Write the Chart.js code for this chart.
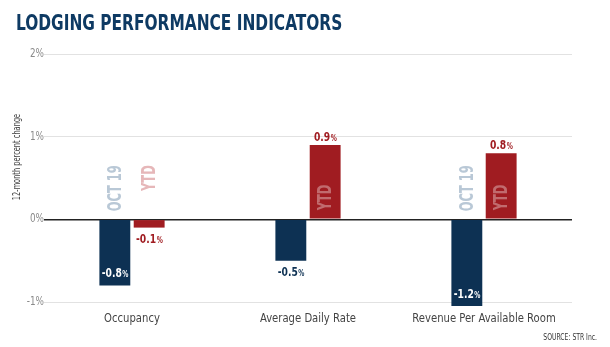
<!DOCTYPE html>
<html>
<head>
<meta charset="utf-8">
<script src="https://cdn.jsdelivr.net/npm/chart.js@4"></script>
<style>
  html, body { margin: 0; padding: 0; background: #fff; }
  #wrap { width: 610px; height: 347px; }
</style>
</head>
<body>
<div id="wrap"><canvas id="lodgingChart" width="610" height="347"></canvas></div>
<script>
const FONT = "'DejaVu Sans Condensed', 'DejaVu Sans', sans-serif";

// chart data
const categories = ['Occupancy', 'Average Daily Rate', 'Revenue Per Available Room'];
const seriesNames = ['OCT 19', 'YTD'];
const oct19 = [-0.8, -0.5, -1.2];
const ytd = [-0.1, 0.9, 0.8];
const yTicks = [-1, 0, 1, 2];
// which bars carry the vertical series tag
const oct19Tags = [true, false, true];
const ytdTags = [true, true, true];

const NAVY = '#0d3153';
const RED = '#a01c21';

// draw text squeezed horizontally (the original uses a condensed face)
function drawText(ctx, str, x, y, o) {
  ctx.save();
  ctx.translate(x, y);
  if (o.rot) ctx.rotate(o.rot);
  ctx.scale(o.sx || 1, 1);
  ctx.font = o.font;
  ctx.fillStyle = o.color;
  ctx.textAlign = o.align || 'left';
  ctx.textBaseline = o.baseline || 'alphabetic';
  ctx.fillText(str, 0, 0);
  ctx.restore();
}

function drawValue(ctx, v, cx, baseline, color) {
  const sx = 0.85;
  const main = v.toFixed(1);
  const f1 = 'bold 12px ' + FONT, f2 = 'bold 8px ' + FONT;
  ctx.font = f1;
  const w1 = ctx.measureText(main).width * sx;
  ctx.font = f2;
  const w2 = ctx.measureText('%').width * sx;
  const x = cx - (w1 + w2) / 2;
  drawText(ctx, main, x, baseline, { font: f1, color, sx });
  drawText(ctx, '%', x + w1 + 0.5, baseline, { font: f2, color, sx });
}

const labelPlugin = {
  id: 'barLabels',
  afterDatasetsDraw(chart) {
    const ctx = chart.ctx;
    const y0 = chart.scales.y.getPixelForValue(0);
    const limit = chart.chartArea.bottom + 4;
    chart.data.datasets.forEach((ds, di) => {
      const meta = chart.getDatasetMeta(di);
      meta.data.forEach((bar, i) => {
        const v = ds.data[i];
        const end = Math.min(bar.y, limit);
        const h = Math.abs(end - y0);
        if (v < 0 && h > 50) {
          drawValue(ctx, v, bar.x, end - 8, '#fff');
        } else if (v < 0) {
          drawValue(ctx, v, bar.x, end + 15, ds.backgroundColor);
        } else {
          drawValue(ctx, v, bar.x, end - 4, ds.backgroundColor);
        }

        // vertical series tag
        if (!ds.tags[i]) return;
        const tag = { font: 'bold 19px ' + FONT, sx: 0.67, rot: -Math.PI / 2, baseline: 'middle' };
        if (v > 0) {
          drawText(ctx, ds.label, bar.x + 1, y0 - 9,
            Object.assign(tag, { align: 'left', color: 'rgba(255,255,255,0.35)' }));
        } else {
          drawText(ctx, ds.label, bar.x + 1, y0 - 54,
            Object.assign(tag, { align: 'right', color: ds.tagColor }));
        }
      });
    });
  },
  afterDraw(chart) {
    const ctx = chart.ctx;
    const area = chart.chartArea;
    const xs = chart.scales.x, ys = chart.scales.y;
    // title
    drawText(ctx, 'LODGING PERFORMANCE INDICATORS', 16, 30,
      { font: 'bold 21px ' + FONT, color: '#0e3a63', sx: 0.815 });
    // category labels
    categories.forEach((c, i) => {
      drawText(ctx, c, xs.getPixelForValue(i), area.bottom + 17,
        { font: '13px ' + FONT, color: '#444', sx: 0.86, align: 'center', baseline: 'middle' });
    });
    // y tick labels
    yTicks.forEach(v => {
      drawText(ctx, v + '%', area.left, ys.getPixelForValue(v),
        { font: '12px ' + FONT, color: '#8a8a8a', sx: 0.82, align: 'right', baseline: 'middle' });
    });
    // source
    drawText(ctx, 'SOURCE: STR Inc.', 597, 340,
      { font: '9px ' + FONT, color: '#333', sx: 0.75, align: 'right' });
    // y axis title
    drawText(ctx, '12-month percent change', 17, 157,
      { font: '11px ' + FONT, color: '#444', sx: 0.67, rot: -Math.PI / 2, align: 'center', baseline: 'middle' });
  }
};

const ctx = document.getElementById('lodgingChart').getContext('2d');
const lodgingChart = new Chart(ctx, {
  type: 'bar',
  data: {
    labels: categories,
    datasets: [{
      label: seriesNames[0],
      data: oct19,
      backgroundColor: NAVY,
      tags: oct19Tags,
      tagColor: '#b9c8d6',
      clip: { left: 0, top: 0, right: 0, bottom: 4 }
    }, {
      label: seriesNames[1],
      data: ytd,
      backgroundColor: RED,
      tags: ytdTags,
      tagColor: '#e6b7b9',
      clip: { left: 0, top: 0, right: 0, bottom: 4 }
    }]
  },
  options: {
    responsive: false,
    animation: false,
    categoryPercentage: 0.39,
    barPercentage: 0.9,
    layout: { padding: { top: 54, right: 38, bottom: 0, left: 0 } },
    scales: {
      x: {
        grid: { display: false },
        border: { display: false },
        ticks: { display: false },
        afterFit: (scale) => { scale.height = 45; }
      },
      y: {
        min: yTicks[0],
        max: yTicks[yTicks.length - 1],
        afterBuildTicks: (scale) => { scale.ticks = yTicks.map(v => ({ value: v })); },
        border: { display: false },
        grid: {
          drawTicks: false,
          color: (c) => c.tick && c.tick.value === 0 ? '#222' : '#e2e2e2',
          lineWidth: (c) => c.tick && c.tick.value === 0 ? 1.5 : 1
        },
        ticks: { display: false },
        afterFit: (scale) => { scale.width = 44; }
      }
    },
    plugins: {
      legend: { display: false },
      tooltip: { enabled: false }
    }
  },
  plugins: [labelPlugin]
});
</script>
</body>
</html>
